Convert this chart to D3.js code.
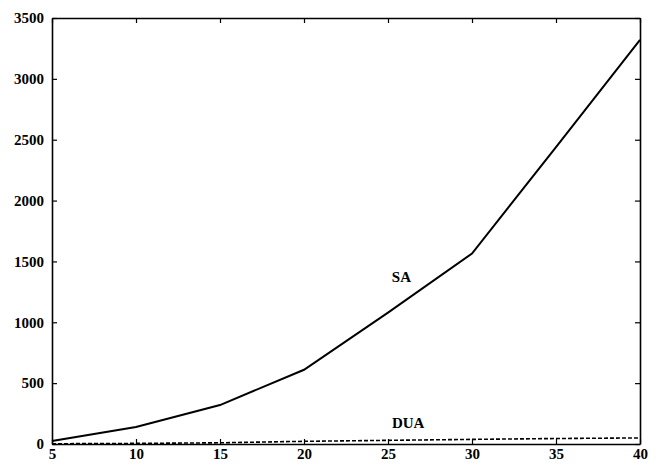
<!DOCTYPE html>
<html>
<head>
<meta charset="utf-8">
<script src="https://cdn.jsdelivr.net/npm/d3@7"></script>
<style>
  body { margin: 0; background: #fff; }
  svg { display: block; }
  .tick text { font-family: "Liberation Serif", "DejaVu Serif", serif; font-weight: bold; font-size: 15px; fill: #000; }
  .lbl { font-family: "Liberation Serif", "DejaVu Serif", serif; font-weight: bold; font-size: 15px; fill: #000; }
</style>
</head>
<body>
<svg width="658" height="464"></svg>
<script>
// problem size on x, cost on y
const sizes = [5, 10, 15, 20, 25, 30, 35, 40];
const saValues = [25, 140, 320, 610, 1080, 1565, 2440, 3320];
const duaValues = [2, 5, 10, 22, 30, 38, 45, 50];
const xTicks = [5, 10, 15, 20, 25, 30, 35, 40];
const yTicks = [0, 500, 1000, 1500, 2000, 2500, 3000, 3500];
const labels = [
    {text: "SA", x: 25.8, y: 1330},
    {text: "DUA", x: 26.2, y: 130}
];

const margin = {top: 18, right: 18, bottom: 20, left: 52};
const width = 658 - margin.left - margin.right;
const height = 464 - margin.top - margin.bottom;

let svg = d3.select("svg");
let g = svg.append("g").attr("transform", "translate(" + margin.left + "," + margin.top + ")");

let x = d3.scaleLinear().domain([5, 40]).range([0, width]);
let y = d3.scaleLinear().domain([0, 3500]).range([height, 0]);

// box with inward ticks, matlab style
g.append("g")
    .attr("transform", "translate(0," + height + ")")
    .call(d3.axisBottom(x).tickValues(xTicks).tickFormat(d3.format("d")).tickSizeInner(-5).tickSizeOuter(0).tickPadding(6))
    .call(a => a.selectAll(".tick text").attr("dy", "0.6em"));
g.append("g")
    .call(d3.axisTop(x).tickValues(xTicks).tickSizeInner(-5).tickSizeOuter(0).tickFormat(""));
g.append("g")
    .call(d3.axisLeft(y).tickValues(yTicks).tickFormat(d3.format("d")).tickSizeInner(-5).tickSizeOuter(0).tickPadding(8));
g.append("g")
    .attr("transform", "translate(" + width + ",0)")
    .call(d3.axisRight(y).tickValues(yTicks).tickSizeInner(-5).tickSizeOuter(0).tickFormat(""));

g.selectAll(".domain").attr("stroke", "#000").attr("stroke-width", 1.6);
g.selectAll(".tick line").attr("stroke", "#000").attr("stroke-width", 1.2);

let line = d3.line().x(d => x(d[0])).y(d => y(d[1]));

g.append("path")
    .datum(d3.zip(sizes, saValues))
    .attr("fill", "none")
    .attr("stroke", "#000")
    .attr("stroke-width", 2)
    .attr("d", line);

g.append("path")
    .datum(d3.zip(sizes, duaValues))
    .attr("fill", "none")
    .attr("stroke", "#000")
    .attr("stroke-width", 1.6)
    .attr("stroke-dasharray", "4,2")
    .attr("d", line);

g.selectAll(".lbl")
    .data(labels).enter()
    .append("text")
    .attr("class", "lbl")
    .attr("x", d => x(d.x))
    .attr("y", d => y(d.y))
    .attr("text-anchor", "middle")
    .text(d => d.text);
</script>
</body>
</html>
